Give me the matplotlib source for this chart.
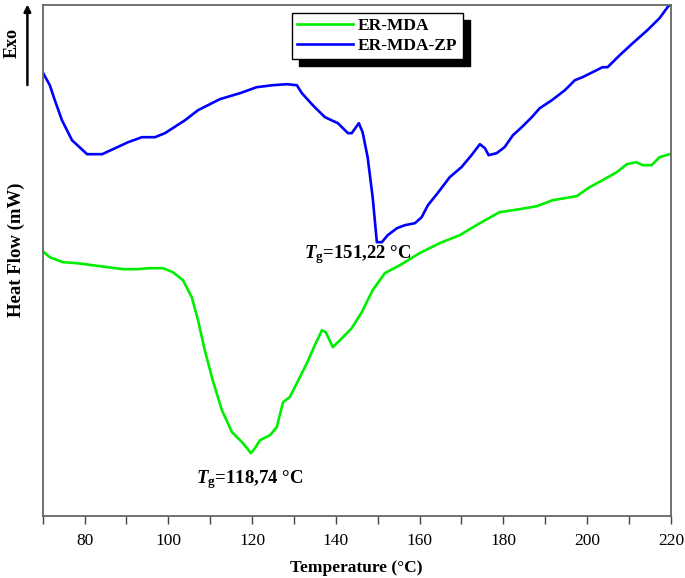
import matplotlib
matplotlib.use("Agg")
import matplotlib.pyplot as plt
from matplotlib.ticker import MultipleLocator

plt.rcParams['font.family'] = ['Liberation Serif', 'DejaVu Serif']
plt.rcParams['mathtext.fontset'] = 'custom'
plt.rcParams['mathtext.rm'] = 'Liberation Serif:bold'
plt.rcParams['mathtext.bf'] = 'Liberation Serif:bold'
plt.rcParams['mathtext.it'] = 'Liberation Serif:italic:bold'
plt.rcParams['mathtext.bfit'] = 'Liberation Serif:italic:bold'

# ER-MDA-ZP (blue), temperature in °C, heat flow in arbitrary units
temp_zp = [70.0, 71.7, 72.9, 74.6, 77.0, 80.6, 84.2, 86.8, 90.4, 93.7, 96.8, 99.2,
           104.0, 107.1, 112.3, 117.1, 121.1, 125.0, 128.3, 130.7, 131.9, 134.5,
           137.4, 140.5, 142.9, 143.8, 145.5, 146.4, 147.6, 148.8, 149.8, 151.0,
           152.4, 154.6, 156.5, 158.9, 160.5, 162.0, 164.3, 167.2, 170.0, 172.4,
           174.4, 175.6, 176.5, 178.4, 180.3, 182.3, 184.4, 186.8, 188.7, 191.6,
           194.7, 197.1, 198.9, 201.8, 203.7, 204.9, 207.8, 210.9, 214.4, 217.3,
           219.4, 220.0]
heat_zp = [4.44, 4.31, 4.16, 3.96, 3.76, 3.62, 3.62, 3.67, 3.74, 3.79, 3.79, 3.83,
           3.96, 4.06, 4.17, 4.23, 4.29, 4.31, 4.32, 4.31, 4.23, 4.11,
           3.99, 3.93, 3.83, 3.83, 3.93, 3.84, 3.59, 3.19, 2.74, 2.74,
           2.81, 2.88, 2.91, 2.93, 2.99, 3.11, 3.23, 3.39, 3.49, 3.61,
           3.72, 3.68, 3.61, 3.63, 3.69, 3.81, 3.89, 3.99, 4.08, 4.16,
           4.26, 4.36, 4.39, 4.45, 4.49, 4.49, 4.61, 4.73, 4.86, 4.98,
           5.10, 5.12]

# ER-MDA (green)
temp_mda = [70.0, 71.7, 74.8, 78.2, 83.7, 89.2, 92.5, 95.6, 98.7, 101.1, 103.5,
            105.6, 107.1, 108.7, 110.6, 112.8, 115.2, 117.6, 118.8, 119.7, 120.7,
            121.9, 124.3, 125.9, 127.4, 129.0, 130.7, 133.1, 135.0, 136.7, 137.6,
            139.3, 141.0, 143.8, 146.2, 148.8, 151.7, 155.3, 160.0, 164.8, 169.6,
            174.4, 179.1, 183.9, 188.0, 191.8, 197.5, 200.6, 203.7, 207.1, 209.5,
            211.8, 213.3, 215.4, 217.3, 219.7]
heat_mda = [2.65, 2.59, 2.54, 2.53, 2.50, 2.47, 2.47, 2.48, 2.48, 2.44, 2.36,
            2.19, 1.96, 1.66, 1.36, 1.06, 0.84, 0.74, 0.68, 0.63, 0.68,
            0.76, 0.81, 0.89, 1.14, 1.19, 1.33, 1.53, 1.71, 1.86, 1.84,
            1.69, 1.76, 1.88, 2.04, 2.26, 2.43, 2.51, 2.63, 2.73, 2.81,
            2.93, 3.04, 3.07, 3.10, 3.16, 3.20, 3.29, 3.36, 3.44, 3.52,
            3.54, 3.51, 3.51, 3.59, 3.62]

fig = plt.figure(figsize=(6.85, 5.78), dpi=100)
ax = fig.add_axes([0.0623, 0.107, 0.917, 0.884])

ax.plot(temp_mda, heat_mda, color='#00ee00', lw=1.9, label='ER-MDA')
ax.plot(temp_zp, heat_zp, color='#0000ff', lw=1.9, label='ER-MDA-ZP')

ax.set_xlim(70, 220)
ax.set_ylim(0, 5.11)
ax.xaxis.set_major_locator(MultipleLocator(20))
ax.xaxis.set_minor_locator(MultipleLocator(10))
ax.set_yticks([])
ax.tick_params(axis='x', which='both', direction='out', length=6, width=1,
               color='#444444', labelsize=12.5, pad=6)
for s in ax.spines.values():
    s.set_color('#666666')
    s.set_linewidth(1.3)

ax.set_xlabel('Temperature (°C)', fontsize=12.5, fontweight='bold', labelpad=8)
fig.text(0.024, 0.568, 'Heat Flow (mW)', rotation=90, fontsize=13.5,
         fontweight='bold', ha='center', va='center')
fig.text(0.018, 0.925, 'Exo', rotation=90, fontsize=13,
         fontweight='bold', ha='center', va='center')
fig.add_artist(matplotlib.patches.FancyArrowPatch(
    (0.04, 0.848), (0.04, 0.997), transform=fig.transFigure,
    arrowstyle='-|>', mutation_scale=10, color='black', lw=1.8))

ax.text(132.4, 2.58, r'$\mathbfit{T}_{\mathbf{g}}$=151,22 °C', fontsize=13.5,
        fontweight='bold', va='baseline', ha='left')
ax.text(106.7, 0.33, r'$\mathbfit{T}_{\mathbf{g}}$=118,74 °C', fontsize=13.5,
        fontweight='bold', va='baseline', ha='left')

leg = ax.legend(loc='upper left', bbox_to_anchor=(0.397, 0.985), frameon=True,
                fancybox=False, shadow={'color': 'black', 'alpha': 1, 'ox': 5, 'oy': -5},
                prop={'weight': 'bold', 'size': 12.5}, handlelength=3.2,
                borderpad=0.3, labelspacing=0.2, handletextpad=0.3,
                borderaxespad=0)
leg.get_frame().set_edgecolor('black')
leg.get_frame().set_linewidth(1.0)

fig.savefig('out.png', dpi=100)
